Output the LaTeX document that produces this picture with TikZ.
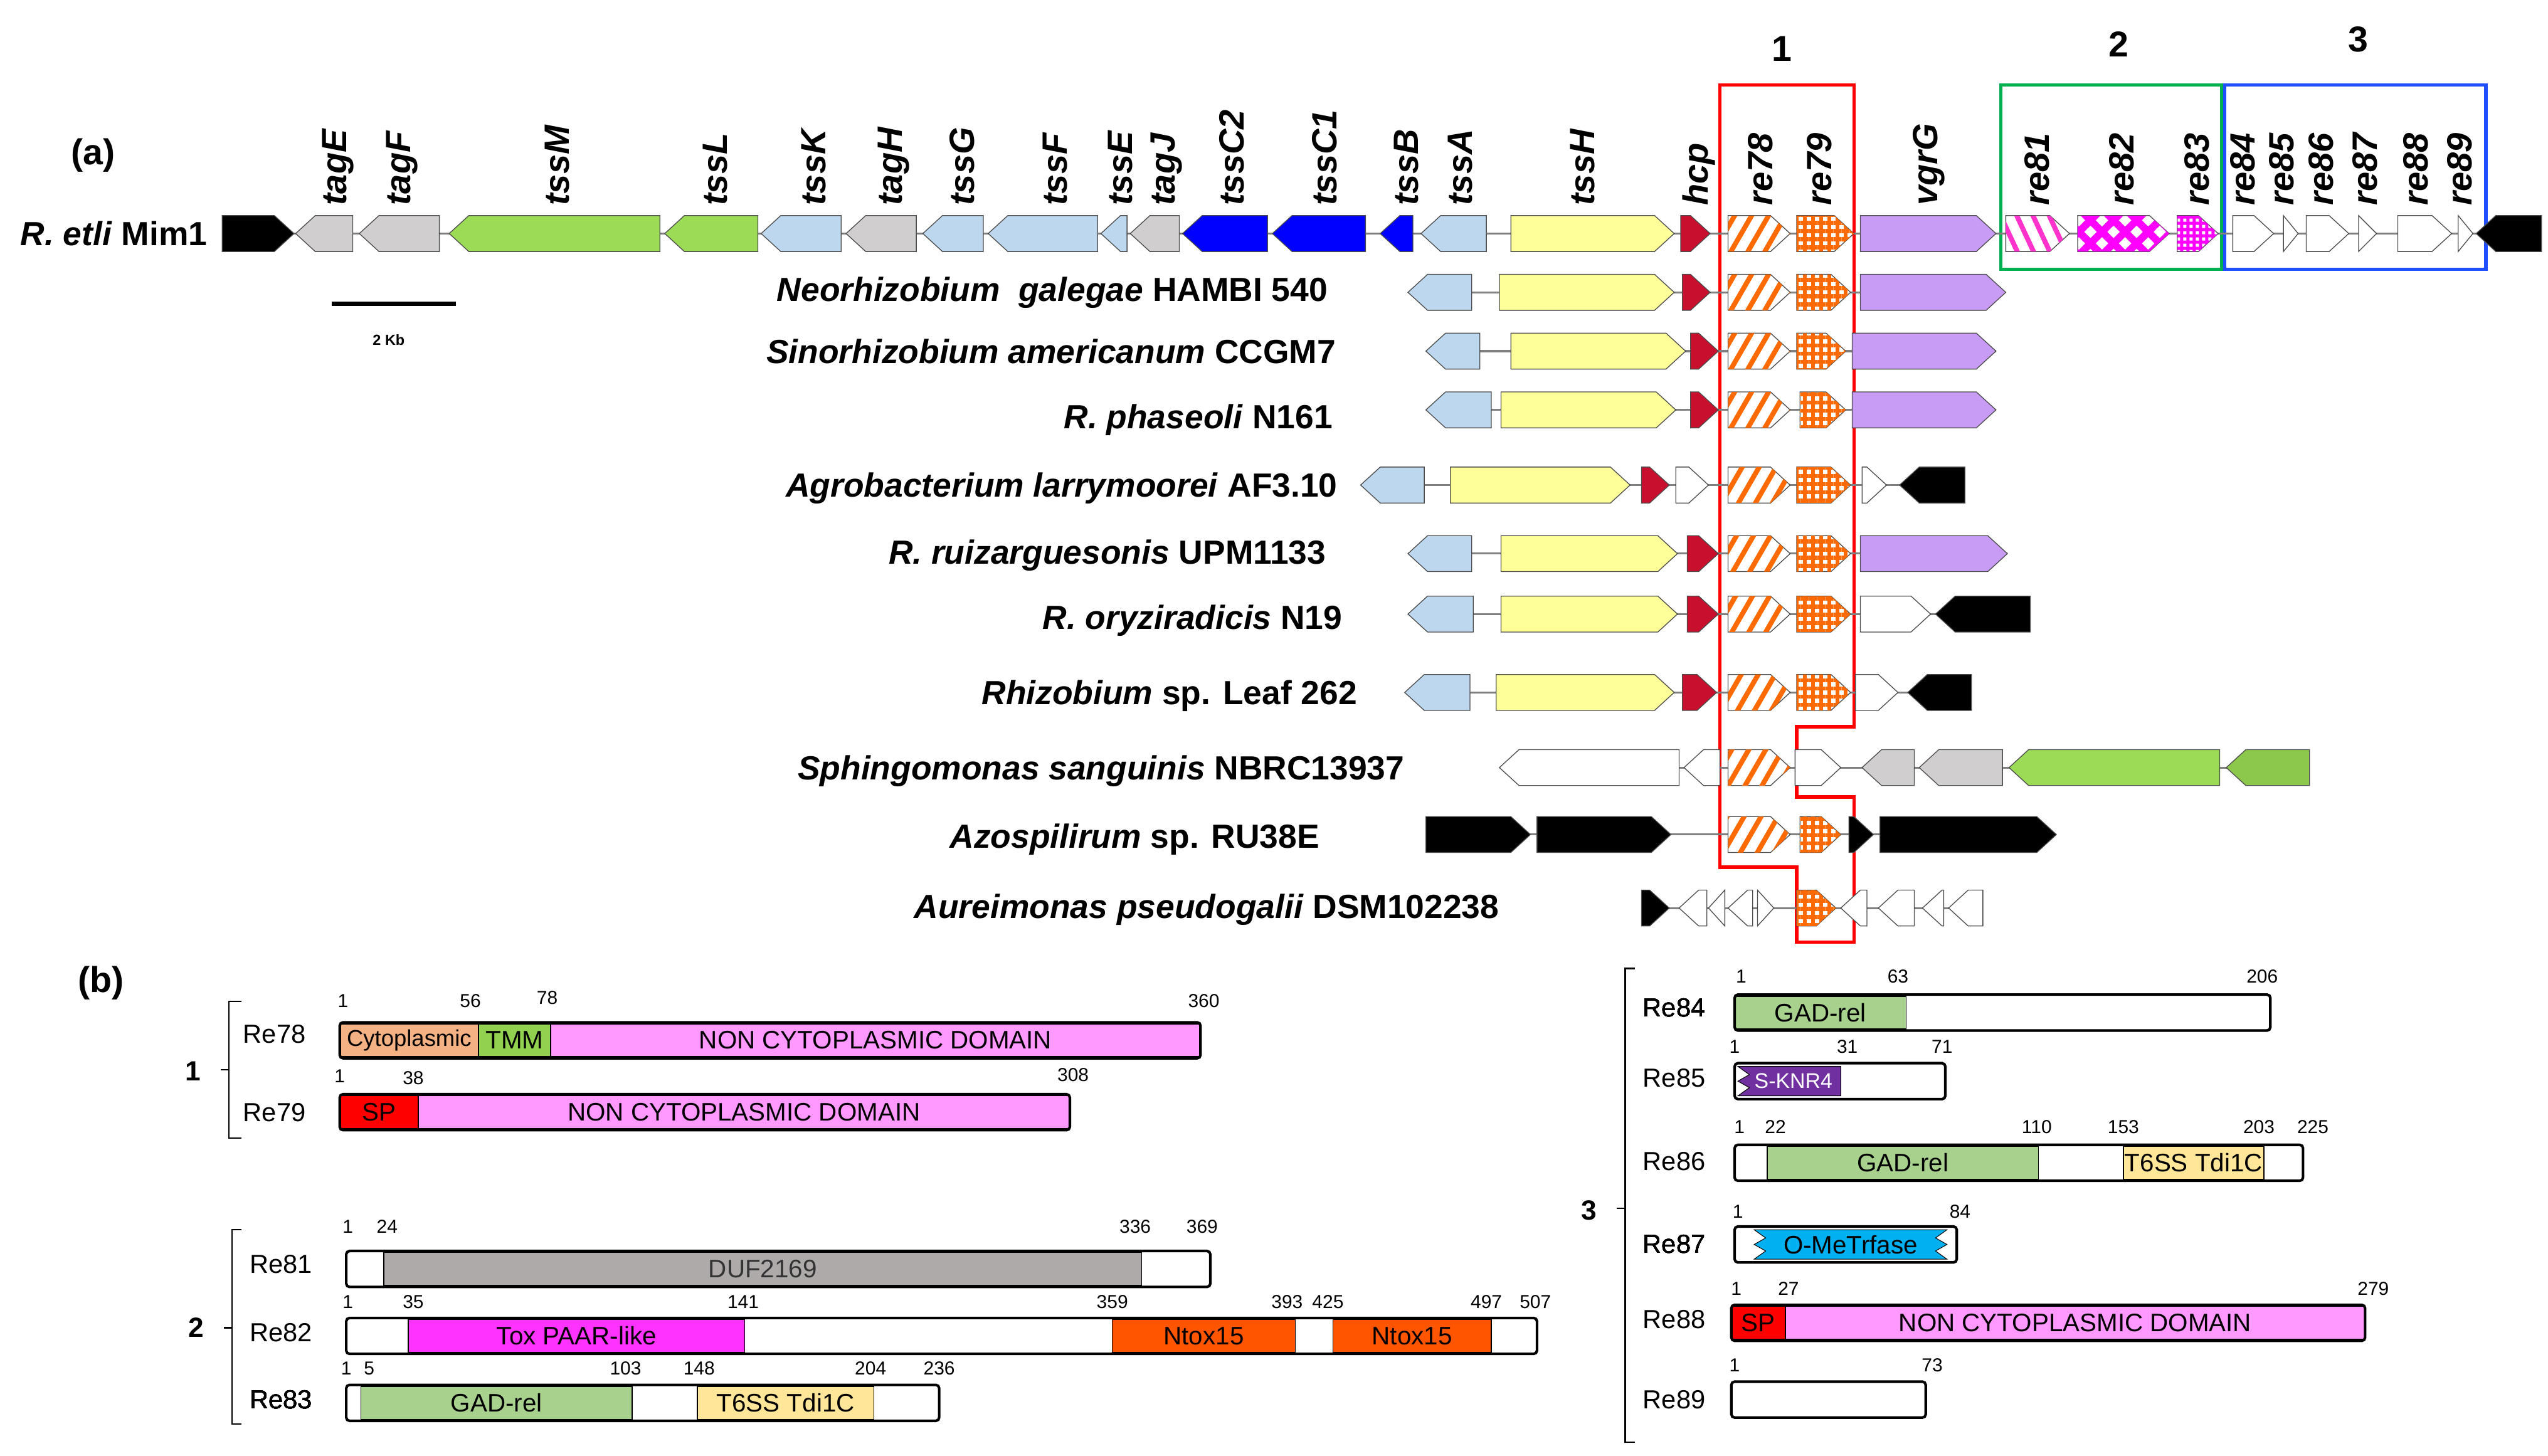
\documentclass[tikz,border=0pt]{standalone}
\usepackage{fontspec}
\setmainfont{Liberation Sans}
\usetikzlibrary{patterns,patterns.meta}
\definecolor{lb}{HTML}{BDD7EE}\definecolor{gr}{HTML}{D0CECE}\definecolor{gn}{HTML}{9BDB56}
\definecolor{gn2}{HTML}{8CC84B}\definecolor{bl}{HTML}{0000FF}\definecolor{ye}{HTML}{FFFF99}
\definecolor{rd}{HTML}{C8102E}\definecolor{pu}{HTML}{C89BF5}\definecolor{og}{HTML}{FF6A00}
\definecolor{pk}{HTML}{FF33CC}\definecolor{mg}{HTML}{FF00FF}\definecolor{sal}{HTML}{F4B183}
\definecolor{tmm}{HTML}{92D050}\definecolor{ncd}{HTML}{FF99FF}\definecolor{duf}{HTML}{AEAAAA}
\definecolor{tox}{HTML}{FF33FF}\definecolor{ntx}{HTML}{FF5500}\definecolor{gad}{HTML}{A9D18E}
\definecolor{tdi}{HTML}{FFE699}\definecolor{knr}{HTML}{7030A0}\definecolor{ome}{HTML}{00B0F0}
\definecolor{bx3}{HTML}{1F4FFF}\definecolor{bx2}{HTML}{00B050}
\newcommand\geneR[4]{\pgfmathsetmacro\hx{max(#1,#2-12)}%
 \draw[gs,#4] (#1,#3-11) -- (\hx,#3-11) -- (#2,#3) -- (\hx,#3+11) -- (#1,#3+11) -- cycle;}
\newcommand\geneL[4]{\pgfmathsetmacro\hx{min(#1+12,#2)}%
 \draw[gs,#4] (#1,#3) -- (\hx,#3-11) -- (#2,#3-11) -- (#2,#3+11) -- (\hx,#3+11) -- cycle;}
\newcommand\bb[3]{\draw[gray,line width=1.2pt] (#1,#3) -- (#2,#3);}
\newcommand\pbar[3]{\fill[white,rounded corners=2pt] (#1,#3-11) rectangle (#2,#3+11);}
\newcommand\pbor[3]{\draw[line width=1.6pt,rounded corners=2pt] (#1,#3-11) rectangle (#2,#3+11);}
\newcommand\dom[6]{\draw[fill=#4,line width=0.6pt] (#1,#3-10) rectangle (#2,#3+10);
 \node[dtext,text=#6] at ({(#1+#2)/2},#3) {#5};}
\newcommand\num[3]{\node[ntext] at (#1,#2) {#3};}
\tikzset{gs/.style={draw=gray!60!black,line width=0.5pt},
 gl/.style={rotate=90,anchor=west,font=\fontsize{21.5}{21.5}\selectfont\bfseries\itshape,inner sep=0pt},
 sp/.style={anchor=east,font=\fontsize{20.5}{20.5}\selectfont\bfseries,inner sep=0pt},
 dtext/.style={font=\fontsize{15.5}{15.5}\selectfont,inner sep=0pt},
 ntext/.style={font=\fontsize{11.5}{11.5}\selectfont,inner sep=0pt},
 plab/.style={font=\fontsize{16}{16}\selectfont,inner sep=0pt},
 s78/.style={fill=white,postaction={pattern={Lines[angle=60,distance=9pt,line width=3pt]},pattern color=og}},
 s79/.style={fill=white,postaction={pattern={Hatch[angle=0,distance=5pt,line width=2.5pt]},pattern color=og}},
 s81/.style={fill=white,postaction={pattern={Lines[angle=-65,distance=9pt,line width=3pt]},pattern color=pk}},
 s82/.style={fill=white,postaction={pattern={Hatch[angle=45,distance=10pt,line width=4.5pt]},pattern color=mg}},
 s83/.style={fill=white,postaction={pattern={Hatch[angle=0,distance=4pt,line width=2pt]},pattern color=mg}}}
\begin{document}
\begin{tikzpicture}[x=1pt,y=-1pt]
\useasboundingbox (0,0) rectangle (1560,891.5);
% boxes
\draw[red,line width=2pt] (1053,52) -- (1135,52) -- (1135,445) -- (1100,445) -- (1100,488) -- (1135,488) -- (1135,577) -- (1100,577) -- (1100,531) -- (1053,531) -- cycle;
\draw[bx2,line width=2pt] (1225,52) rectangle (1360,165);
\draw[bx3,line width=2pt] (1362,52) rectangle (1522,165);
\node[font=\fontsize{22}{22}\selectfont\bfseries] at (1091,30) {1};
\node[font=\fontsize{22}{22}\selectfont\bfseries] at (1297,27) {2};
\node[font=\fontsize{22}{22}\selectfont\bfseries] at (1444,24) {3};
\node[font=\fontsize{22}{22}\selectfont\bfseries] at (57,95) {(a)};
\node[font=\fontsize{22}{22}\selectfont\bfseries] at (62,602) {(b)};
% row 0
\bb{136}{1556}{143}
\node[sp] at (127,143) {\textit{R. etli} Mim1};
\geneR{136}{180}{143}{fill=black}
\geneL{181}{216}{143}{fill=gr}\geneL{220}{269}{143}{fill=gr}
\geneL{275}{404}{143}{fill=gn}\geneL{407}{464}{143}{fill=gn}
\geneL{466}{515}{143}{fill=lb}\geneL{518}{561}{143}{fill=gr}
\geneL{565}{602}{143}{fill=lb}\geneL{605}{672}{143}{fill=lb}
\geneL{674}{690}{143}{fill=lb}\geneL{692}{722}{143}{fill=gr}
\geneL{724}{776}{143}{fill=bl}\geneL{779}{836}{143}{fill=bl}
\geneL{845}{865}{143}{fill=bl}\geneL{870}{910}{143}{fill=lb}
\geneR{925}{1025}{143}{fill=ye}\geneR{1029}{1047}{143}{fill=rd}
\geneR{1058}{1096}{143}{s78}\geneR{1100}{1135}{143}{s79}
\geneR{1139}{1222}{143}{fill=pu}
\geneR{1228}{1267}{143}{s81}\geneR{1272}{1328}{143}{s82}\geneR{1333}{1358}{143}{s83}
\geneR{1367}{1392}{143}{fill=white}\geneR{1398}{1407}{143}{fill=white}
\geneR{1412}{1438}{143}{fill=white}\geneR{1444}{1455}{143}{fill=white}
\geneR{1468}{1501}{143}{fill=white}\geneR{1505}{1514}{143}{fill=white}
\geneL{1516}{1556}{143}{fill=black}
\foreach \x/\t in {207/tagE,246/tagF,341/tssM,438/tssL,498/tssK,547/tagH,589/tssG,646/tssF,686/tssE,714/tagJ,754/tssC2,811/tssC1,861/tssB,894/tssA,969/tssH,1040/hcp,1078/re78,1114/re79,1181/vgrG,1247/re81,1299/re82,1345/re83,1373/re84,1397/re85,1421/re86,1448/re87,1479/re88,1506/re89}
 \node[gl] at (\x,126) {\t};
% scale bar
\draw[line width=2.5pt] (203,186) -- (279,186);
\node[font=\fontsize{9}{9}\selectfont\bfseries] at (238,208) {2 Kb};
% row 1
\bb{862}{1228}{179}
\node[sp] at (813,179) {\textit{Neorhizobium\ \ galegae} HAMBI 540};
\geneL{862}{901}{179}{fill=lb}\geneR{918}{1025}{179}{fill=ye}\geneR{1030}{1047}{179}{fill=rd}
\geneR{1058}{1096}{179}{s78}\geneR{1100}{1133}{179}{s79}\geneR{1139}{1228}{179}{fill=pu}
% row 2
\bb{873}{1222}{215}
\node[sp] at (818,215) {\textit{Sinorhizobium americanum} CCGM7};
\geneL{873}{906}{215}{fill=lb}\geneR{925}{1032}{215}{fill=ye}\geneR{1035}{1052}{215}{fill=rd}
\geneR{1058}{1096}{215}{s78}\geneR{1100}{1130}{215}{s79}\geneR{1134}{1222}{215}{fill=pu}
% row 3
\bb{873}{1222}{251}
\node[sp] at (816,257) {\textit{R. phaseoli} N161};
\geneL{873}{913}{251}{fill=lb}\geneR{919}{1026}{251}{fill=ye}\geneR{1035}{1052}{251}{fill=rd}
\geneR{1058}{1096}{251}{s78}\geneR{1102}{1130}{251}{s79}\geneR{1134}{1222}{251}{fill=pu}
% row 4
\bb{833}{1203}{297}
\node[sp] at (819,299) {\textit{Agrobacterium larrymoorei} AF3.10};
\geneL{833}{872}{297}{fill=lb}\geneR{888}{998}{297}{fill=ye}\geneR{1005}{1022}{297}{fill=rd}
\geneR{1026}{1046}{297}{fill=white}
\geneR{1058}{1096}{297}{s78}\geneR{1100}{1133}{297}{s79}
\geneR{1140}{1155}{297}{fill=white}\geneL{1163}{1203}{297}{fill=black}
% row 5
\bb{862}{1229}{339}
\node[sp] at (812,340) {\textit{R. ruizarguesonis} UPM1133};
\geneL{862}{901}{339}{fill=lb}\geneR{919}{1027}{339}{fill=ye}\geneR{1033}{1052}{339}{fill=rd}
\geneR{1058}{1096}{339}{s78}\geneR{1100}{1133}{339}{s79}\geneR{1139}{1229}{339}{fill=pu}
% row 6
\bb{862}{1243}{376}
\node[sp] at (822,380) {\textit{R. oryziradicis} N19};
\geneL{862}{902}{376}{fill=lb}\geneR{919}{1027}{376}{fill=ye}\geneR{1033}{1052}{376}{fill=rd}
\geneR{1058}{1096}{376}{s78}\geneR{1100}{1133}{376}{s79}
\geneR{1139}{1182}{376}{fill=white}\geneL{1185}{1243}{376}{fill=black}
% row 7
\bb{860}{1207}{424}
\node[sp] at (831,426) {\textit{Rhizobium} sp. Leaf 262};
\geneL{860}{900}{424}{fill=lb}\geneR{916}{1025}{424}{fill=ye}\geneR{1030}{1051}{424}{fill=rd}
\geneR{1058}{1096}{424}{s78}\geneR{1100}{1133}{424}{s79}
\geneR{1136}{1162}{424}{fill=white}\geneL{1168}{1207}{424}{fill=black}
% row 8
\bb{918}{1414}{470}
\node[sp] at (860,472) {\textit{Sphingomonas sanguinis} NBRC13937};
\geneL{918}{1028}{470}{fill=white}\geneL{1031}{1053}{470}{fill=white}
\geneR{1058}{1096}{470}{s78}\geneR{1099}{1127}{470}{fill=white}
\geneL{1140}{1172}{470}{fill=gr}\geneL{1175}{1226}{470}{fill=gr}
\geneL{1230}{1359}{470}{fill=gn}\geneL{1363}{1414}{470}{fill=gn2}
% row 9
\bb{873}{1259}{511}
\node[sp] at (808,514) {\textit{Azospilirum} sp. RU38E};
\geneR{873}{937}{511}{fill=black}\geneR{941}{1023}{511}{fill=black}
\geneR{1058}{1096}{511}{s78}\geneR{1102}{1127}{511}{s79}
\geneR{1132}{1147}{511}{fill=black}\geneR{1151}{1259}{511}{fill=black}
% row 10
\bb{1005}{1214}{556}
\node[sp] at (918,557) {\textit{Aureimonas pseudogalii} DSM102238};
\geneR{1005}{1022}{556}{fill=black}
\geneL{1028}{1045}{556}{fill=white}\geneL{1046}{1056}{556}{fill=white}
\geneL{1058}{1073}{556}{fill=white}\geneR{1076}{1086}{556}{fill=white}
\geneR{1100}{1124}{556}{s79}
\geneL{1127}{1143}{556}{fill=white}\geneL{1150}{1172}{556}{fill=white}
\geneL{1177}{1190}{556}{fill=white}\geneL{1193}{1214}{556}{fill=white}
% ===== panel b =====
\draw[line width=0.8pt] (148,613) -- (140,613) -- (140,697) -- (148,697);
\draw[line width=0.8pt] (140,655) -- (135,655);
\node[font=\fontsize{17}{17}\selectfont\bfseries] at (118,656) {1};
\draw[line width=0.8pt] (148,753) -- (142,753) -- (142,872) -- (148,872);
\draw[line width=0.8pt] (142,813) -- (137,813);
\node[font=\fontsize{17}{17}\selectfont\bfseries] at (120,813) {2};
\draw[line width=0.8pt] (1001,593) -- (995,593) -- (995,883) -- (1001,883);
\draw[line width=0.8pt] (995,740) -- (990,740);
\node[font=\fontsize{17}{17}\selectfont\bfseries] at (973,741) {3};
% Re78
\node[plab] at (168,633) {Re78};
\pbar{208}{735}{637}
\dom{208}{293}{637}{sal}{\fontsize{14}{14}\selectfont Cytoplasmic}{black}
\dom{293}{337}{637}{tmm}{TMM}{black}
\dom{337}{735}{637}{ncd}{NON CYTOPLASMIC DOMAIN}{black}
\pbor{208}{735}{637}
\num{210}{613}{1}\num{288}{613}{56}\num{335}{611}{78}\num{737}{613}{360}
% Re79
\node[plab] at (168,681) {Re79};
\dom{208}{256}{681}{red}{SP}{black}
\dom{256}{655}{681}{ncd}{NON CYTOPLASMIC DOMAIN}{black}
\pbor{208}{655}{681}
\num{208}{659}{1}\num{253}{660}{38}\num{657}{658}{308}
% Re81
\node[plab] at (172,774) {Re81};
\pbar{212}{741}{777}
\dom{235}{699}{777}{duf}{DUF2169}{black!80}
\pbor{212}{741}{777}
\num{213}{751}{1}\num{237}{751}{24}\num{695}{751}{336}\num{736}{751}{369}
% Re82
\node[plab] at (172,816) {Re82};
\pbar{212}{941}{818}
\dom{250}{456}{818}{tox}{Tox PAAR-like}{black}
\dom{681}{793}{818}{ntx}{Ntox15}{black}
\dom{816}{913}{818}{ntx}{Ntox15}{black}
\pbor{212}{941}{818}
\foreach \x/\t in {213/1,253/35,455/141,681/359,788/393,813/425,910/497,940/507} \num{\x}{797}{\t}
% Re83
\node[plab] at (172,857) {Re83};
\pbar{212}{575}{859}
\dom{221}{387}{859}{gad}{GAD-rel}{black}
\dom{427}{535}{859}{tdi}{T6SS Tdi1C}{black}
\pbor{212}{575}{859}
\foreach \x/\t in {212/1,226/5,383/103,428/148,533/204,575/236} \num{\x}{838}{\t}
% Re84
\node[plab] at (1025,617) {Re84};
\pbar{1062}{1390}{620}
\dom{1062}{1167}{620}{gad}{GAD-rel}{black}
\pbor{1062}{1390}{620}
\num{1066}{598}{1}\num{1162}{598}{63}\num{1385}{598}{206}
% Re85
\node[plab] at (1025,660) {Re85};
\pbar{1062}{1191}{662}
\draw[fill=knr] (1064,653) -- (1127,653) -- (1127,671) -- (1064,671) -- (1071,666) -- (1064,662) -- (1071,658) -- cycle;
\node[dtext,text=white,font=\fontsize{13}{13}\selectfont] at (1098,662) {S-KNR4};
\pbor{1062}{1191}{662}
\num{1062}{641}{1}\num{1131}{641}{31}\num{1189}{641}{71}
% Re86
\node[plab] at (1025,711) {Re86};
\pbar{1062}{1410}{712}
\dom{1082}{1248}{712}{gad}{GAD-rel}{black}
\dom{1300}{1386}{712}{tdi}{T6SS Tdi1C}{black}
\pbor{1062}{1410}{712}
\foreach \x/\t in {1065/1,1087/22,1247/110,1300/153,1383/203,1416/225} \num{\x}{690}{\t}
% Re87
\node[plab] at (1025,762) {Re87};
\pbar{1062}{1198}{762}
\draw[fill=ome] (1074,753) -- (1192,753) -- (1185,758) -- (1192,762) -- (1185,766) -- (1192,771) -- (1074,771) -- (1081,766) -- (1074,762) -- (1081,758) -- cycle;
\node[dtext] at (1133,762) {O-MeTrfase};
\pbor{1062}{1198}{762}
\num{1064}{742}{1}\num{1200}{742}{84}
% Re88
\node[plab] at (1025,808) {Re88};
\dom{1060}{1093}{810}{red}{SP}{black}
\dom{1093}{1448}{810}{ncd}{NON CYTOPLASMIC DOMAIN}{black}
\pbor{1060}{1448}{810}
\num{1063}{789}{1}\num{1095}{789}{27}\num{1453}{789}{279}
% Re89
\node[plab] at (1025,857) {Re89};
\pbar{1060}{1179}{857}
\pbor{1060}{1179}{857}
\num{1062}{836}{1}\num{1183}{836}{73}
\end{tikzpicture}
\end{document}
